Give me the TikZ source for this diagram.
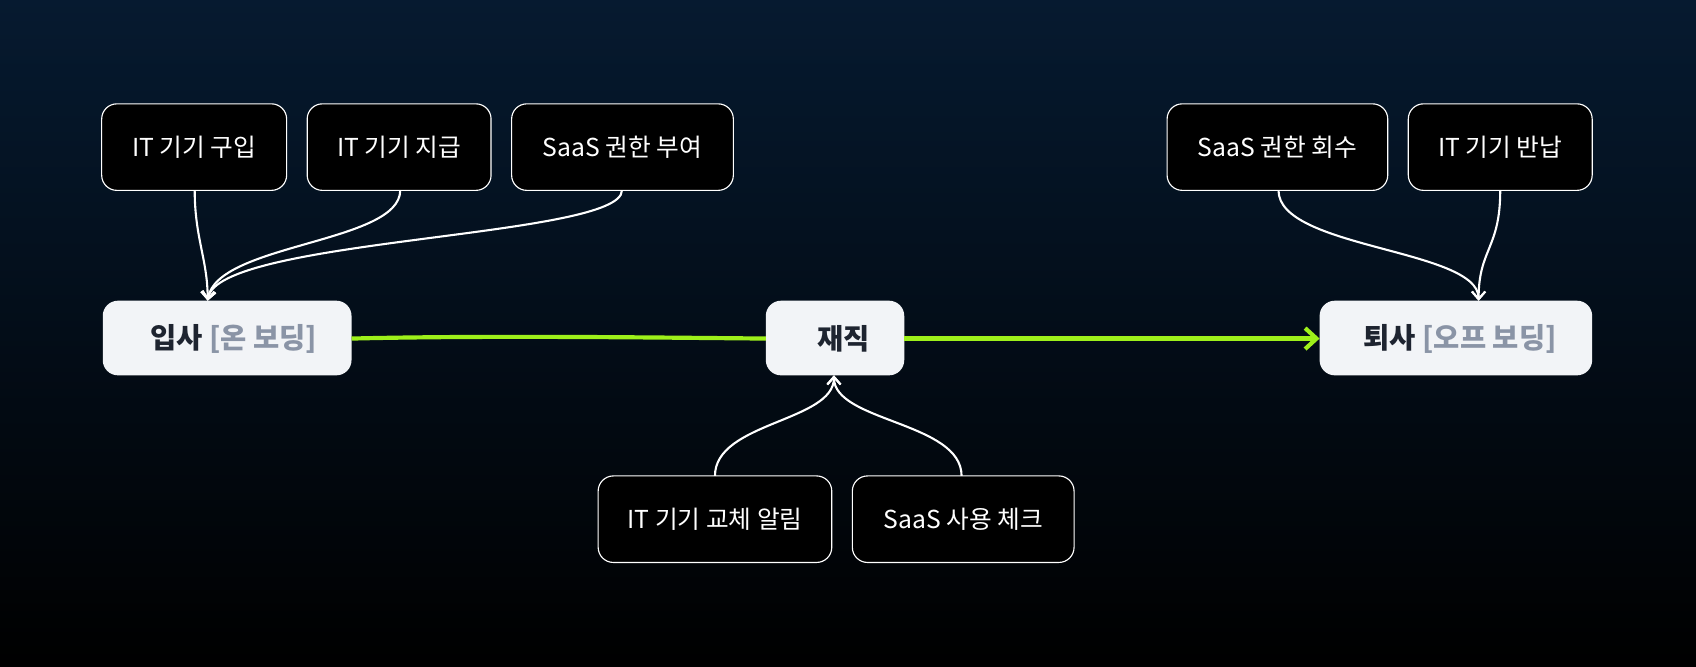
\documentclass[tikz,border=0pt]{standalone}
\usepackage{fontspec}
\setmainfont{Noto Sans CJK KR}
\usetikzlibrary{arrows.meta}
\definecolor{bgtop}{HTML}{061A30}
\definecolor{bgbot}{HTML}{000000}
\definecolor{lime}{HTML}{9EF01A}
\definecolor{card}{HTML}{F2F4F7}
\definecolor{ink}{HTML}{1E2430}
\definecolor{muted}{HTML}{8A94A6}
\begin{document}
\begin{tikzpicture}[x=0.02cm,y=-0.02cm,
  task/.style={draw=white,line width=0.6pt,fill=black,rounded corners=8pt,text=white,font=\fontsize{13}{15}\selectfont},
  stage/.style={fill=card,rounded corners=8pt,text=ink,font=\bfseries\fontsize{15}{18}\selectfont},
  link/.style={white,line width=1.1pt,-{Straight Barb[length=4pt,width=7pt]}},
  flow/.style={lime,line width=2.2pt,-{Straight Barb[length=6pt,width=11pt]}}]
\shade[top color=bgtop,bottom color=bgbot] (0,0) rectangle (1568,616);
\useasboundingbox (0,0) rectangle (1568,616);
% top tasks
\draw[task] (94,96) rectangle (265,176) node[midway] (t1) {IT 기기 구입};
\draw[task] (284,96) rectangle (454,176) node[midway] (t2) {IT 기기 지급};
\draw[task] (473,96) rectangle (678,176) node[midway] (t3) {SaaS 권한 부여};
\draw[task] (1079,96) rectangle (1283,176) node[midway] (t4) {SaaS 권한 회수};
\draw[task] (1302,96) rectangle (1472,176) node[midway] (t5) {IT 기기 반납};
\draw[task] (553,440) rectangle (769,520) node[midway] (b1) {IT 기기 교체 알림};
\draw[task] (788,440) rectangle (993,520) node[midway] (b2) {SaaS 사용 체크};
% stages
\fill[card,rounded corners=8pt] (95,278) rectangle (325,347);
\node[stage] (s1) at (216,313) {입사 \textcolor{muted}{[온 보딩]}};
\fill[card,rounded corners=8pt] (708,278) rectangle (836,347);
\node[stage] (s2) at (780,313) {재직};
\fill[card,rounded corners=8pt] (1220,278) rectangle (1472,347);
\node[stage] (s3) at (1350,313) {퇴사 \textcolor{muted}{[오프 보딩]}};
\coordinate (s1r) at (325,313);
\coordinate (s2l) at (708,313);
\coordinate (s2r) at (836,313);
\coordinate (s3l) at (1220,313);
\coordinate (s1t) at (192,278);
\coordinate (s2b) at (771,347);
\coordinate (s3t) at (1367,278);
\coordinate (a1) at (180,176); \coordinate (a2) at (370,176); \coordinate (a3) at (575,176);
\coordinate (a4) at (1182,176); \coordinate (a5) at (1387,176);
\coordinate (c1) at (661,440); \coordinate (c2) at (889,440);
% connectors
\draw[lime,line width=2.2pt] (s1r) .. controls (450,310) and (600,312) .. (s2l);
\draw[flow] (s2r) -- (s3l);
\draw[link] (a1) .. controls (180,220) and (192,240) .. (s1t);
\draw[link] (a2) .. controls (370,225) and (200,225) .. (s1t);
\draw[link] (a3) .. controls (575,220) and (200,220) .. (s1t);
\draw[link] (a4) .. controls (1182,230) and (1367,230) .. (s3t);
\draw[link] (a5) .. controls (1387,230) and (1367,230) .. (s3t);
\draw[link] (c1) .. controls (661,390) and (771,390) .. (s2b);
\draw[link] (c2) .. controls (889,390) and (771,390) .. (s2b);
\end{tikzpicture}
\end{document}
